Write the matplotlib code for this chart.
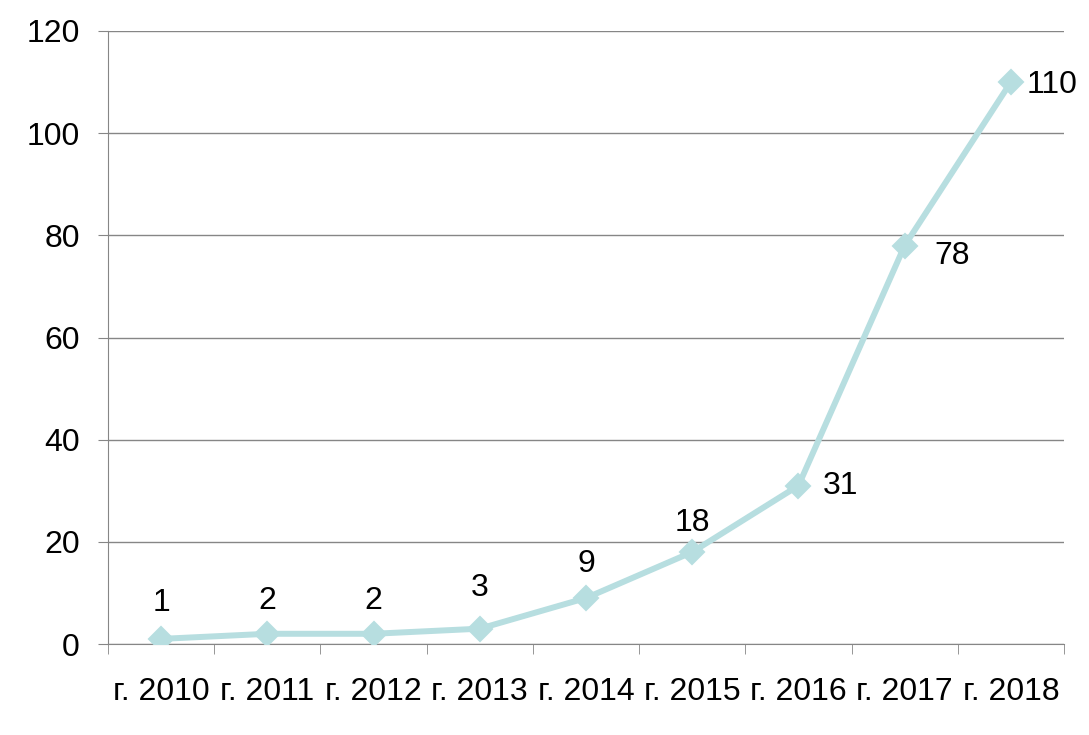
import matplotlib.pyplot as plt
import numpy as np

plt.rcParams['font.family'] = ['Liberation Sans', 'DejaVu Sans']

years = ['г. 2010', 'г. 2011', 'г. 2012', 'г. 2013', 'г. 2014',
         'г. 2015', 'г. 2016', 'г. 2017', 'г. 2018']
values = [1, 2, 2, 3, 9, 18, 31, 78, 110]

# data label offsets in pixels (dx, dy) relative to the point, and alignment
label_dx = [0, 0, 0, 0, 0, 0, 24, 30, 16]
label_dy = [36, 33, 33, 41, 34, 29, 0, -10, -3]
label_ha = ['center'] * 6 + ['left'] * 3

line_color = '#b7dee0'
grid_color = '#868686'
fs = 23

fig = plt.figure(figsize=(10.89, 7.35), dpi=100)
ax = fig.add_axes([108 / 1089, 1 - 644 / 735, (1064 - 108) / 1089, (644 - 31) / 735])

x = np.arange(len(years))
ax.plot(x, values, color=line_color, lw=4.3, marker='D', ms=12, mew=1.5,
        mfc=line_color, mec=line_color, zorder=3, solid_joinstyle='round')

px = 72 / 100  # pixels -> points
for xi, v, dx, dy, ha in zip(x, values, label_dx, label_dy, label_ha):
    ax.annotate(str(v), (xi, v), xytext=(dx * px, dy * px), textcoords='offset points',
                ha=ha, va='center', fontsize=fs)

ax.set_xlim(-0.5, len(years) - 0.5)
ax.set_ylim(0, 120)
ax.set_yticks(np.arange(0, 121, 20))
ax.yaxis.grid(True, color=grid_color, lw=1)
ax.set_axisbelow(True)

ax.set_xticks(x)
ax.set_xticklabels(years)
ax.set_xticks(np.arange(-0.5, len(years)), minor=True)
ax.tick_params(axis='x', which='major', length=0, pad=24, labelsize=fs)
ax.tick_params(axis='x', which='minor', length=7.2, color=grid_color, direction='out')
ax.tick_params(axis='y', length=7.2, color=grid_color, labelsize=fs, pad=13)

for s in ['top', 'right']:
    ax.spines[s].set_visible(False)
for s in ['left', 'bottom']:
    ax.spines[s].set_color(grid_color)

fig.savefig('out.png', dpi=100)
